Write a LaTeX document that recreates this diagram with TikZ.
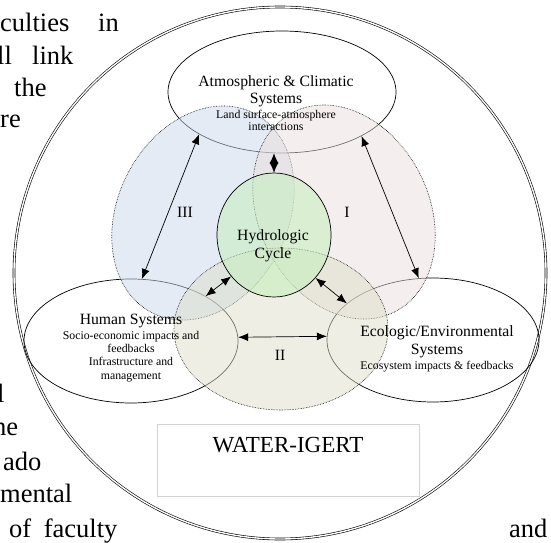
\documentclass[tikz,border=0pt]{standalone}
\usepackage{fontspec}
\setmainfont{Liberation Serif}
\usetikzlibrary{arrows.meta,shapes.geometric}

\definecolor{regionblue}{HTML}{C9D7EB}
\definecolor{regionpink}{HTML}{EBDDDD}
\definecolor{regionsand}{HTML}{DDDDC9}
\definecolor{hydrogreen}{HTML}{C4EFBC}
\definecolor{boxgray}{HTML}{D2D2D2}
\newcommand{\detailfont}{\fontsize{11.8}{13.3}\selectfont}
\newcommand{\titlefont}{\fontsize{15.7}{16}\selectfont}

\begin{document}
\begin{tikzpicture}[
    x=1pt, y=1pt,
    system/.style={draw, ellipse, inner sep=0pt, line width=0.7pt},
    region/.style={draw, ellipse, inner sep=0pt, densely dotted, line width=0.6pt, fill opacity=0.5},
    label/.style={anchor=base, align=center, inner sep=0pt},
    roman/.style={font=\titlefont, inner sep=0pt},
    pagetext/.style={anchor=base west, inner sep=0pt, font=\fontsize{26.5}{33}\selectfont},
    arrow/.style={{Latex[length=10pt,width=8pt]}-{Latex[length=10pt,width=8pt]}, line width=0.7pt},
    twotip/.style={{Latex[length=10pt,width=9pt]}-{Latex[length=10pt,width=9pt]}, line width=0.7pt}
]
\useasboundingbox (0,0) rectangle (551,542);

% running text of the page around the figure
\node[pagetext] (t1) at (0,510) {culties};
\node[pagetext] (t2) at (98,510) {in};
\node[pagetext] (t3) at (-3,477) {ll};
\node[pagetext] (t4) at (32,477) {link};
\node[pagetext] (t5) at (14,445) {the};
\node[pagetext] (t6) at (0,414) {re};
\node[pagetext] (t7) at (-3,140) {l};
\node[pagetext] (t8) at (-7,107) {he};
\node[pagetext] (t9) at (3,72) {ado};
\node[pagetext] (t10) at (0,40) {mental};
\node[pagetext] (t11) at (9,5) {of\hspace{6pt} faculty};
\node[pagetext] (t12) at (509,5) {and};

% frame
\draw[double, line width=0.6pt, double distance=1.4pt] (280,269) circle (266);

% the three systems
\node[system, minimum width=228, minimum height=122] (atmos) at (282,450) {};
\node[system, minimum width=214, minimum height=124] (human) at (131,201) {};
\node[system, minimum width=212, minimum height=124] (eco) at (433,202) {};

% overlap regions
\node[region, fill=regionblue, minimum width=170, minimum height=224, rotate=-27] (regIII) at (203,329) {};
\node[region, fill=regionpink, minimum width=170, minimum height=224, rotate=27] (regI) at (344,330) {};
\node[region, fill=regionsand, minimum width=214, minimum height=162] (regII) at (281,213) {};

\node[draw, ellipse, inner sep=0pt, line width=0.7pt, fill=hydrogreen, fill opacity=0.55,
      minimum width=114, minimum height=124] (hydro) at (274,307) {};

% texts (base = last line)
\node[label, font=\titlefont] (atmostext) at (276,411)
    {Atmospheric \& Climatic\\Systems\\{\detailfont Land surface-atmosphere}\\[-4pt]{\detailfont interactions}};
\node[label, font=\detailfont] (humantext) at (131,163)
    {{\titlefont Human Systems}\\[1.7pt]Socio-economic impacts and\\feedbacks\\Infrastructure and\\management};
\node[label, font=\fontsize{15.7}{18}\selectfont] (ecotext) at (437,173)
    {Ecologic/Environmental\\Systems\\[-3pt]{\detailfont Ecosystem impacts \& feedbacks}};
\node[label, font=\fontsize{15.7}{18}\selectfont] (hydrotext) at (273,284) {Hydrologic\\Cycle};

\node[roman] (labI) at (347,330) {I};
\node[roman] (labII) at (280,187) {II};
\node[roman] (labIII) at (185,330) {III};

\node[draw=boxgray, line width=0.6pt, minimum width=262, minimum height=72] (igert) at (288,82) {};
\node[label, font=\fontsize{23}{26}\selectfont] (igerttext) at (288,90) {WATER-IGERT};

% links
\draw[arrow] (atmos.207) -- (human.80);
\draw[arrow] (atmos.331) -- (eco.103);
\draw[arrow] (human.2) -- (eco.178);
\draw[arrow] (hydro.224) -- (human.31);
\draw[arrow] (hydro.314) -- (eco.157);
\draw[twotip] (hydro.north) -- (hydro.north |- atmos.south);
\end{tikzpicture}
\end{document}
